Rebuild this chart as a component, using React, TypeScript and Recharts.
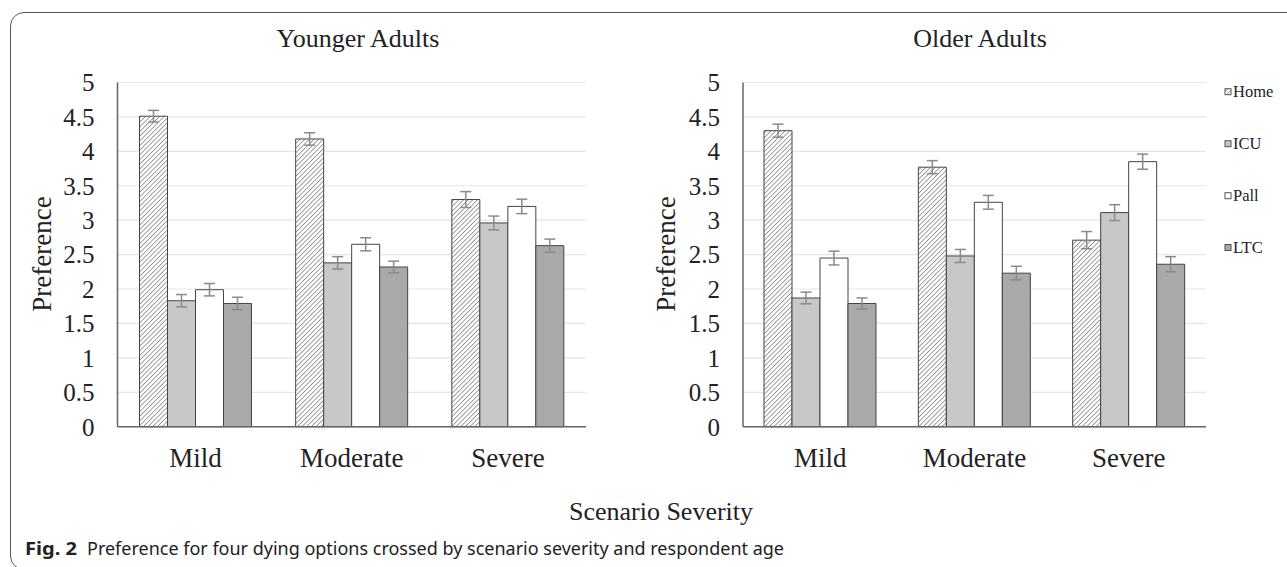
import React from "react";
import { BarChart, Bar, XAxis, YAxis, CartesianGrid, ErrorBar } from "recharts";

// Preference for four dying options by scenario severity and respondent age

const severity = ["Mild", "Moderate", "Severe"];
const options = ["Home", "ICU", "Pall", "LTC"];
const yTicks = [0, 0.5, 1, 1.5, 2, 2.5, 3, 3.5, 4, 4.5, 5];

// Younger adults (one value per severity level)
const youngHome = [4.51, 4.18, 3.3];
const youngICU = [1.83, 2.38, 2.96];
const youngPall = [1.99, 2.65, 3.2];
const youngLTC = [1.79, 2.32, 2.63];
const youngHomeErr = [0.085, 0.09, 0.115];
const youngICUErr = [0.09, 0.09, 0.1];
const youngPallErr = [0.09, 0.095, 0.105];
const youngLTCErr = [0.09, 0.085, 0.095];

// Older adults
const oldHome = [4.3, 3.77, 2.71];
const oldICU = [1.87, 2.48, 3.11];
const oldPall = [2.45, 3.26, 3.85];
const oldLTC = [1.79, 2.23, 2.36];
const oldHomeErr = [0.095, 0.095, 0.125];
const oldICUErr = [0.085, 0.095, 0.115];
const oldPallErr = [0.1, 0.1, 0.11];
const oldLTCErr = [0.08, 0.1, 0.11];

const fills: Record<string, string> = {
  Home: "url(#hatch)",
  ICU: "#c8c8c8",
  Pall: "#ffffff",
  LTC: "#a9a9a9",
};

const serif = "'Liberation Serif', 'Times New Roman', serif";
const sans = "'Noto Sans', 'Open Sans', sans-serif";

const buildRows = (vals: number[][], errs: number[][]) =>
  severity.map((name, i) => {
    const row: Record<string, string | number> = { name };
    options.forEach((opt, k) => {
      row[opt] = vals[k][i];
      row[opt + "Err"] = errs[k][i];
    });
    return row;
  });

const youngRows = buildRows(
  [youngHome, youngICU, youngPall, youngLTC],
  [youngHomeErr, youngICUErr, youngPallErr, youngLTCErr]
);
const oldRows = buildRows(
  [oldHome, oldICU, oldPall, oldLTC],
  [oldHomeErr, oldICUErr, oldPallErr, oldLTCErr]
);

interface IPanelProps {
  data: Record<string, string | number>[];
  left: number;
  marginLeft: number;
  marginRight: number;
}

function Panel({ data, left, marginLeft, marginRight }: IPanelProps) {
  return (
    <div style={{ position: "absolute", left, top: 0 }}>
      <BarChart
        width={600}
        height={500}
        data={data}
        margin={{ top: 82.5, right: marginRight, bottom: 13.3, left: marginLeft }}
        barGap={0}
        barSize={28}
      >
        <CartesianGrid vertical={false} stroke='#e6e6e6' strokeWidth={1.2} />
        <XAxis
          dataKey='name'
          height={60}
          interval={0}
          tickLine={false}
          tickSize={0}
          tickMargin={21}
          axisLine={{ stroke: "#666", strokeWidth: 1.5 }}
          tick={{ fontSize: 27, fill: "#222", fontFamily: serif }}
        />
        <YAxis
          width={60}
          domain={[0, 5]}
          ticks={yTicks}
          interval={0}
          tickLine={false}
          tickSize={0}
          tickMargin={23}
          axisLine={{ stroke: "#666", strokeWidth: 1.5 }}
          tick={{ fontSize: 25, fill: "#222", fontFamily: serif }}
        />
        {options.map((opt) => (
          <Bar key={opt} dataKey={opt} fill={fills[opt]} stroke='#444' strokeWidth={1} isAnimationActive={false}>
            <ErrorBar dataKey={opt + "Err"} width={5.5} stroke='#8a8a8a' strokeWidth={1.5} />
          </Bar>
        ))}
      </BarChart>
    </div>
  );
}

export default function App() {
  const legendY = [91.7, 143.7, 195.7, 247.5];
  return (
    <div
      style={{
        position: "absolute",
        left: 0,
        top: 0,
        width: 1287,
        height: 567,
        background: "#fff",
        overflow: "hidden",
      }}
    >
      <div
        style={{
          position: "absolute",
          left: 10,
          top: 12,
          width: 1300,
          height: 558,
          border: "1.5px solid #555",
          borderRadius: 14,
          boxSizing: "border-box",
        }}
      />
      <Panel data={youngRows} left={0} marginLeft={57.5} marginRight={14} />
      <Panel data={oldRows} left={640} marginLeft={43} marginRight={34} />
      <svg
        width={1287}
        height={567}
        style={{ position: "absolute", left: 0, top: 0, pointerEvents: "none" }}
      >
        <defs>
          <pattern id='hatch' patternUnits='userSpaceOnUse' width={3.3} height={3.3} patternTransform='rotate(45)'>
            <rect width={3.3} height={3.3} fill='#fff' />
            <line x1={0} y1={0} x2={0} y2={3.3} stroke='#555' strokeWidth={1.1} />
          </pattern>
        </defs>
        <g fontFamily={serif} fill='#222'>
          <text x={358} y={47} fontSize={26} textAnchor='middle'>
            Younger Adults
          </text>
          <text x={980} y={47} fontSize={26} textAnchor='middle'>
            Older Adults
          </text>
          <text x={51} y={254} fontSize={27} textAnchor='middle' transform='rotate(-90 51 254)'>
            Preference
          </text>
          <text x={675} y={254} fontSize={27} textAnchor='middle' transform='rotate(-90 675 254)'>
            Preference
          </text>
          <text x={661} y={520} fontSize={26} textAnchor='middle'>
            Scenario Severity
          </text>
          {options.map((opt, i) => (
            <g key={opt}>
              <rect
                x={1225}
                y={legendY[i] - 3}
                width={6}
                height={6}
                fill={fills[opt]}
                stroke='#555'
                strokeWidth={1}
              />
              <text x={1233} y={legendY[i] + 5.6} fontSize={16.5}>
                {opt}
              </text>
            </g>
          ))}
        </g>
        <g fontFamily={sans} fill='#222' fontSize={18.5}>
          <text x={25} y={555} fontWeight='bold' textLength={52} lengthAdjust='spacingAndGlyphs'>
            Fig. 2
          </text>
          <text x={87} y={555} textLength={697} lengthAdjust='spacingAndGlyphs'>
            Preference for four dying options crossed by scenario severity and respondent age
          </text>
        </g>
      </svg>
    </div>
  );
}
